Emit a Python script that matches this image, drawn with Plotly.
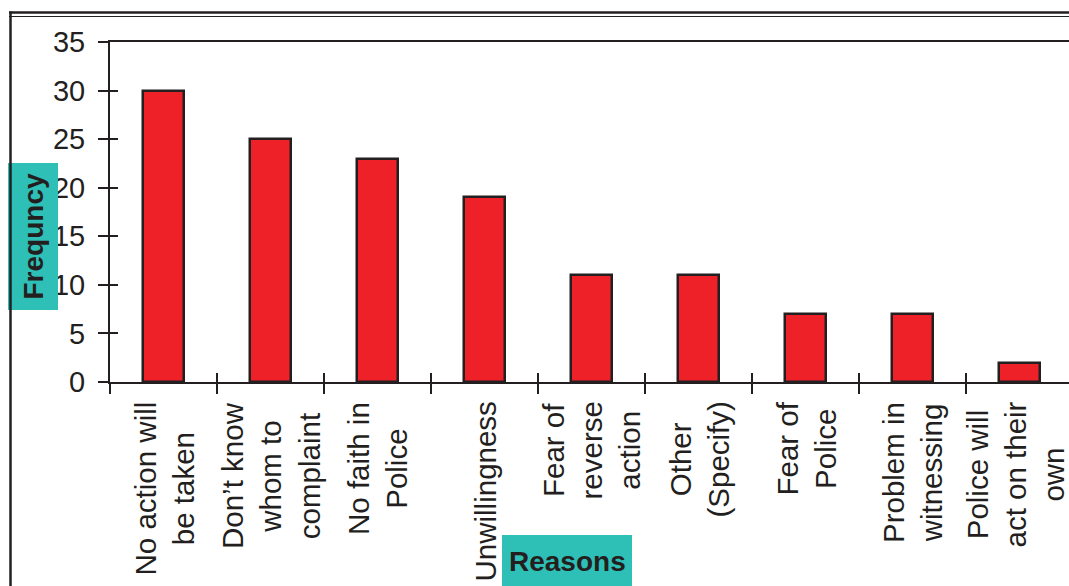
import plotly.graph_objects as go

# Reasons for not reporting, and how often each was given
reasons = [
    "No action will<br>be taken",
    "Don\u2019t know<br>whom to<br>complaint",
    "No faith in<br>Police",
    "Unwillingness",
    "Fear of<br>reverse<br>action",
    "Other<br>(Specify)",
    "Fear of<br>Police",
    "Problem in<br>witnessing",
    "Police will<br>act on their<br>own",
]
frequency = [30, 25, 23, 19, 11, 11, 7, 7, 2]
y_ticks = [0, 5, 10, 15, 20, 25, 30, 35]

W, H = 1069, 586
L, R, T, B = 110, 0, 42, 204
PW, PH = W - L - R, H - T - B

INK = "#231f20"
RED = "#ee2028"
TEAL = "#2ebfb6"
FONT = "Liberation Sans, Arial, Helvetica, sans-serif"


def px_x(px):
    return (px - L) / PW


def px_y(py):
    return (H - B - py) / PH


fig = go.Figure()
fig.add_trace(go.Bar(
    x=reasons, y=frequency, width=0.39,
    marker=dict(color=RED, line=dict(color=INK, width=2.5)),
    showlegend=False, hoverinfo="x+y",
))
# empty trace that carries the overlay axes used for the inner half of the ticks
fig.add_trace(go.Scatter(x=[], y=[], xaxis="x2", yaxis="y2", showlegend=False))

x_range = [-0.5, -0.5 + PW / 107.0]

fig.update_layout(
    width=W, height=H,
    margin=dict(l=L, r=R, t=T, b=B, pad=0),
    paper_bgcolor="white", plot_bgcolor="white",
    font=dict(family=FONT, color=INK, size=28),
    bargap=0.0,
    xaxis=dict(
        type="category", categoryorder="array", categoryarray=reasons,
        range=x_range, tickson="boundaries",
        showline=True, linecolor=INK, linewidth=2, mirror=True,
        ticks="outside", ticklen=10, tickwidth=1.5, tickcolor=INK,
        showticklabels=False, showgrid=False, zeroline=False,
    ),
    yaxis=dict(
        range=[0, 35], tickvals=y_ticks,
        showline=True, linecolor=INK, linewidth=2,
        ticks="outside", ticklen=10, tickwidth=1.5, tickcolor=INK,
        ticklabelstandoff=7,
        tickfont=dict(size=29, color=INK, family=FONT),
        showgrid=False, zeroline=False,
    ),
    xaxis2=dict(
        type="category", categoryorder="array", categoryarray=reasons,
        range=x_range, tickson="boundaries", overlaying="x", anchor="y2",
        showline=False, ticks="inside", ticklen=9, tickwidth=1.5,
        tickcolor=INK, showticklabels=False, showgrid=False, zeroline=False,
    ),
    yaxis2=dict(
        range=[0, 35], tickvals=y_ticks, overlaying="y", anchor="x2",
        side="left", showline=False, ticks="inside", ticklen=8,
        tickwidth=1.5, tickcolor=INK, showticklabels=False,
        showgrid=False, zeroline=False,
    ),
)

# category labels, rotated and hanging below the axis;
# the last one is nudged left so it stays inside the page edge
for i, r in enumerate(reasons):
    fig.add_annotation(
        x=r, y=0, xref="x", yref="y", text=r, textangle=-90,
        xanchor="center", yanchor="top", yshift=-19, align="center",
        xshift=-4 if i == len(reasons) - 1 else 0, borderpad=0,
        showarrow=False, font=dict(size=29.5, color=INK, family=FONT),
    )

# teal boxes behind the axis titles
fig.add_shape(type="rect", xref="paper", yref="paper", layer="above",
              x0=px_x(8), x1=px_x(58), y0=px_y(310), y1=px_y(163),
              fillcolor=TEAL, line=dict(width=0))
fig.add_shape(type="rect", xref="paper", yref="paper", layer="above",
              x0=px_x(502), x1=px_x(632), y0=px_y(586), y1=px_y(535),
              fillcolor=TEAL, line=dict(width=0))

# outer frame: double rule on top, single rule on the left
fig.add_shape(type="line", xref="paper", yref="paper",
              x0=px_x(9), x1=px_x(W + 5), y0=px_y(12.5), y1=px_y(12.5),
              line=dict(color=INK, width=2.5))
fig.add_shape(type="line", xref="paper", yref="paper",
              x0=px_x(9), x1=px_x(W + 5), y0=px_y(16.5), y1=px_y(16.5),
              line=dict(color=INK, width=1))
fig.add_shape(type="line", xref="paper", yref="paper",
              x0=px_x(10.5), x1=px_x(10.5), y0=px_y(11.5), y1=px_y(H + 5),
              line=dict(color=INK, width=2.5))

# axis titles
fig.add_annotation(
    x=px_x(33), y=px_y(236.5), xref="paper", yref="paper",
    text="<b>Frequncy</b>", textangle=-90, showarrow=False,
    xanchor="center", yanchor="middle",
    font=dict(size=28, color=INK, family=FONT),
)
fig.add_annotation(
    x=px_x(567), y=px_y(561), xref="paper", yref="paper",
    text="<b>Reasons</b>", showarrow=False,
    xanchor="center", yanchor="middle",
    font=dict(size=28, color=INK, family=FONT),
)

fig.write_html("out.html", config=dict(displayModeBar=False))
